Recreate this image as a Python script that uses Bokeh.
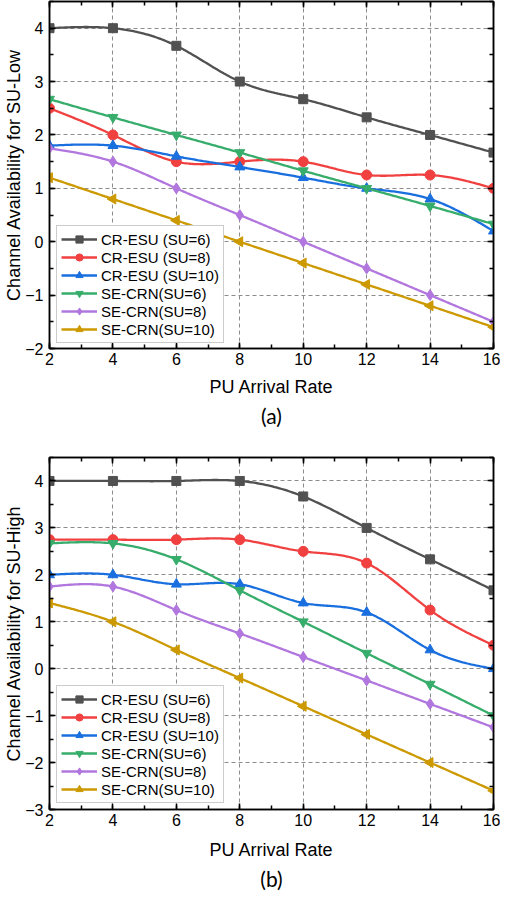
import numpy as np
from bokeh.plotting import figure
from bokeh.layouts import column
from bokeh.models import (LinearAxis, Range1d, SingleIntervalTicker, Legend,
                          LegendItem, Title)
from bokeh.embed import file_html
from bokeh.resources import INLINE

# ---------------- data ----------------
pu_rate = [2, 4, 6, 8, 10, 12, 14, 16]
series_labels = ["CR-ESU (SU=6)", "CR-ESU (SU=8)", "CR-ESU (SU=10)",
                 "SE-CRN(SU=6)", "SE-CRN(SU=8)", "SE-CRN(SU=10)"]

low_cr6 = [4.0, 4.0, 3.67, 3.0, 2.67, 2.33, 2.0, 1.67]
low_cr8 = [2.5, 2.0, 1.5, 1.5, 1.5, 1.25, 1.25, 1.0]
low_cr10 = [1.8, 1.8, 1.6, 1.4, 1.2, 1.0, 0.8, 0.2]
low_se6 = [2.67, 2.33, 2.0, 1.67, 1.33, 1.0, 0.67, 0.33]
low_se8 = [1.75, 1.5, 1.0, 0.5, 0.0, -0.5, -1.0, -1.5]
low_se10 = [1.2, 0.8, 0.4, 0.0, -0.4, -0.8, -1.2, -1.6]

high_cr6 = [4.0, 4.0, 4.0, 4.0, 3.67, 3.0, 2.33, 1.67]
high_cr8 = [2.75, 2.75, 2.75, 2.75, 2.5, 2.25, 1.25, 0.5]
high_cr10 = [2.0, 2.0, 1.8, 1.8, 1.4, 1.2, 0.4, 0.0]
high_se6 = [2.67, 2.67, 2.33, 1.67, 1.0, 0.33, -0.33, -1.0]
high_se8 = [1.75, 1.75, 1.25, 0.75, 0.25, -0.25, -0.75, -1.25]
high_se10 = [1.4, 1.0, 0.4, -0.2, -0.8, -1.4, -2.0, -2.6]

# ---------------- styles ----------------
COLORS = ["#515151", "#F14040", "#1A6FDF", "#37AD6B", "#B177DE", "#CC9900"]
MARKERS = ["square", "circle", "triangle", "inverted_triangle", "diamond", "triangle"]
ANGLES = [0, 0, 0, 0, 0, np.pi / 2]
SIZES = [9, 10, 10, 10, 11, 10]
FONT = "Liberation Sans"


def natural_spline(x, y, n=40):
    x = np.asarray(x, float)
    y = np.asarray(y, float)
    N = len(x)
    h = np.diff(x)
    A = np.zeros((N, N))
    b = np.zeros(N)
    A[0, 0] = 1
    A[-1, -1] = 1
    for i in range(1, N - 1):
        A[i, i - 1] = h[i - 1]
        A[i, i] = 2 * (h[i - 1] + h[i])
        A[i, i + 1] = h[i]
        b[i] = 6 * ((y[i + 1] - y[i]) / h[i] - (y[i] - y[i - 1]) / h[i - 1])
    M = np.linalg.solve(A, b)
    xs, ys = [], []
    for i in range(N - 1):
        t = np.linspace(x[i], x[i + 1], n, endpoint=(i == N - 2))
        a = x[i + 1] - t
        c = t - x[i]
        s = (M[i] * a ** 3 / (6 * h[i]) + M[i + 1] * c ** 3 / (6 * h[i])
             + (y[i] / h[i] - M[i] * h[i] / 6) * a
             + (y[i + 1] / h[i] - M[i + 1] * h[i] / 6) * c)
        xs.extend(t.tolist())
        ys.extend(s.tolist())
    return xs, ys


def make_panel(series, ylabel, ymin, ymax, panel_label, fig_h,
               top_border, bottom_border, legend_y, axis_label_standoff,
               title_standoff):
    p = figure(output_backend="svg", toolbar_location=None,
               width=500, height=fig_h,
               min_border_left=49, min_border_right=7,
               min_border_top=top_border, min_border_bottom=bottom_border,
               x_range=Range1d(2, 16), y_range=Range1d(ymin, ymax),
               x_axis_location=None, y_axis_location=None)
    p.background_fill_color = "white"
    p.border_fill_color = "white"
    p.outline_line_color = "black"
    p.outline_line_width = 1.5

    xt = SingleIntervalTicker(interval=2, num_minor_ticks=2)
    yt = SingleIntervalTicker(interval=1, num_minor_ticks=2)

    def style_axis(ax, labels=True):
        ax.axis_line_color = "black"
        ax.axis_line_width = 1.5
        ax.major_tick_line_color = "black"
        ax.major_tick_line_width = 1.5
        ax.minor_tick_line_color = "black"
        ax.minor_tick_line_width = 1.5
        ax.major_tick_in = 6
        ax.major_tick_out = 0
        ax.minor_tick_in = 4
        ax.minor_tick_out = 0
        if labels:
            ax.major_label_text_font = FONT
            ax.major_label_text_font_size = "16px"
            ax.major_label_text_color = "black"
            ax.axis_label_text_font = FONT
            ax.axis_label_text_font_size = "18px"
            ax.axis_label_text_font_style = "normal"
            ax.axis_label_text_color = "black"
        else:
            ax.major_label_text_font_size = "0px"
            ax.major_label_standoff = 0
            ax.major_label_text_color = None

    xb = LinearAxis(ticker=xt, axis_label="PU Arrival Rate")
    style_axis(xb)
    xb.major_label_standoff = 4
    xb.axis_label_standoff = axis_label_standoff
    yl = LinearAxis(ticker=yt, axis_label=ylabel)
    style_axis(yl)
    yl.major_label_standoff = 6
    yl.axis_label_standoff = -2
    xa = LinearAxis(ticker=xt)
    style_axis(xa, labels=False)
    yr = LinearAxis(ticker=yt)
    style_axis(yr, labels=False)
    p.add_layout(xb, "below")
    p.add_layout(yl, "left")
    p.add_layout(xa, "above")
    p.add_layout(yr, "right")

    for g, t in ((p.xgrid, xt), (p.ygrid, yt)):
        g.ticker = t
        g.grid_line_color = "#8c8c8c"
        g.grid_line_dash = "4 3"
        g.grid_line_width = 1

    items = []
    for vals, lab, col, mk, ang, sz in zip(series, series_labels, COLORS,
                                            MARKERS, ANGLES, SIZES):
        sx, sy = natural_spline(pu_rate, vals)
        lr = p.line(sx, sy, line_color=col, line_width=2.3)
        sr = p.scatter(pu_rate, vals, marker=mk, size=sz, angle=ang,
                       fill_color=col, line_color=col)
        items.append(LegendItem(label=lab, renderers=[lr, sr]))

    leg = Legend(items=items, location=(7, legend_y))
    leg.label_text_font = FONT
    leg.label_text_font_size = "15px"
    leg.label_text_color = "black"
    leg.glyph_width = 36
    leg.glyph_height = 18
    leg.label_height = 18
    leg.label_standoff = 4
    leg.spacing = 0
    leg.padding = 4
    leg.margin = 0
    leg.border_line_color = "#9a9a9a"
    leg.border_line_width = 1
    leg.background_fill_color = "white"
    leg.background_fill_alpha = 1
    p.add_layout(leg, "center")

    t = Title(text=panel_label, align="center", text_font="Lato",
              text_font_size="21px", text_font_style="normal",
              text_color="black", offset=0, standoff=title_standoff)
    p.add_layout(t, "below")
    return p


pa = make_panel([low_cr6, low_cr8, low_cr10, low_se6, low_se8, low_se10],
                "Channel Availability for SU-Low", -2, 4.5, "(a)",
                fig_h=440, top_border=1, bottom_border=92, legend_y=5,
                axis_label_standoff=9, title_standoff=2)
pb = make_panel([high_cr6, high_cr8, high_cr10, high_se6, high_se8, high_se10],
                "Channel Availability for SU-High", -3, 4.5, "(b)",
                fig_h=455, top_border=17, bottom_border=86, legend_y=6,
                axis_label_standoff=11, title_standoff=2)

layout = column(pa, pb, spacing=0)
open("out.html", "w").write(file_html(layout, INLINE))
